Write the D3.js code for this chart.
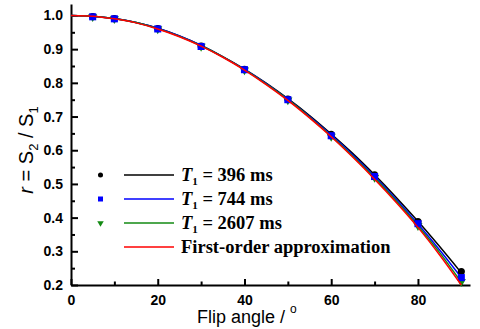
<!DOCTYPE html>
<html>
<head>
<meta charset="utf-8">
<script src="https://cdn.jsdelivr.net/npm/d3@7"></script>
<style>
  body { margin: 0; background: #fff; }
  svg { display: block; }
  .tick text { font-family: "Liberation Sans", Arial, sans-serif; font-weight: bold; font-size: 14px; fill: #000; }
  .legText { font-family: "Liberation Serif", "Times New Roman", serif; font-weight: bold; font-size: 18.5px; }
</style>
</head>
<body>
<div id="chart"></div>
<script>
// flip angles of the measured points
const angles = [5, 10, 20, 30, 40, 50, 60, 70, 80, 90];
// measured ratios
const ptsT396 = [0.997, 0.991, 0.961, 0.909, 0.840, 0.752, 0.647, 0.527, 0.388, 0.240];
const ptsT744 = [0.996, 0.990, 0.960, 0.908, 0.839, 0.750, 0.643, 0.522, 0.382, 0.222];
const ptsT2607 = [0.996, 0.990, 0.960, 0.908, 0.838, 0.749, 0.641, 0.519, 0.376, 0.210];

// curve values
const curveAngles = [0, 5, 10, 15, 20, 25, 30, 35, 40, 45, 50, 55, 60, 65, 70, 75, 80, 85, 90];
const lineT396 = [1.000, 0.998, 0.991, 0.979, 0.962, 0.939, 0.911, 0.878, 0.841, 0.799, 0.753, 0.703, 0.648, 0.590, 0.527, 0.460, 0.389, 0.314, 0.236];
const lineT744 = [1.000, 0.998, 0.991, 0.979, 0.962, 0.939, 0.911, 0.877, 0.840, 0.798, 0.751, 0.700, 0.645, 0.586, 0.522, 0.454, 0.381, 0.304, 0.222];
const lineT2607 = [1.000, 0.998, 0.991, 0.979, 0.961, 0.938, 0.910, 0.877, 0.839, 0.796, 0.750, 0.698, 0.642, 0.582, 0.518, 0.449, 0.375, 0.296, 0.208];
const lineApprox = [1.000, 0.998, 0.990, 0.978, 0.960, 0.937, 0.909, 0.876, 0.838, 0.795, 0.748, 0.696, 0.640, 0.579, 0.514, 0.445, 0.371, 0.289, 0.200];

const xTicks = [0, 20, 40, 60, 80];
const xMinor = [10, 30, 50, 70, 90];
const yTicks = [0.2, 0.3, 0.4, 0.5, 0.6, 0.7, 0.8, 0.9, 1.0];
const yMinor = [0.25, 0.35, 0.45, 0.55, 0.65, 0.75, 0.85, 0.95];

const width = 480, height = 329;

const svg = d3.select("#chart").append("svg")
    .attr("width", width)
    .attr("height", height);

const xScale = d3.scaleLinear().domain([0, 92]).range([71, 470]);
const yScale = d3.scaleLinear().domain([0.2, 1.034]).range([285, 4]);

//minor ticks
svg.append("g")
    .attr("transform", `translate(0, ${yScale(0.2)})`)
    .call(d3.axisBottom(xScale).tickValues(xMinor).tickSizeInner(-3.5).tickSizeOuter(0).tickFormat(""))
    .call(g => g.select(".domain").remove())
    .selectAll("line").attr("stroke-width", 2);

svg.append("g")
    .attr("transform", `translate(${xScale(0)}, 0)`)
    .call(d3.axisLeft(yScale).tickValues(yMinor).tickSizeInner(-4).tickSizeOuter(0).tickFormat(""))
    .call(g => g.select(".domain").remove())
    .selectAll("line").attr("stroke-width", 2);

//major axes
const xAxis = svg.append("g")
    .attr("transform", `translate(0, ${yScale(0.2)})`)
    .call(d3.axisBottom(xScale).tickValues(xTicks).tickSizeInner(-6).tickSizeOuter(0).tickPadding(10).tickFormat(d3.format("d")));
xAxis.select(".domain").attr("stroke-width", 2);
xAxis.selectAll("line").attr("stroke-width", 2);

const yAxis = svg.append("g")
    .attr("transform", `translate(${xScale(0)}, 0)`)
    .call(d3.axisLeft(yScale).tickValues(yTicks).tickSizeInner(-7).tickSizeOuter(0).tickPadding(8).tickFormat(d3.format(".1f")));
yAxis.select(".domain").attr("stroke-width", 2);
yAxis.selectAll("line").attr("stroke-width", 2);

//fitted lines
const series = [
  {line: lineT396, pts: ptsT396, color: "#000000", sym: d3.symbolCircle, size: 40, label: "396 ms"},
  {line: lineT744, pts: ptsT744, color: "#0000ff", sym: d3.symbolSquare, size: 50, label: "744 ms"},
  {line: lineT2607, pts: ptsT2607, color: "#138a13", sym: d3.symbolTriangle, size: 36, label: "2607 ms"}
];

const lineGen = d3.line()
    .x((d, i) => xScale(curveAngles[i]))
    .y(d => yScale(d))
    .curve(d3.curveMonotoneX);

series.forEach(s => {
  svg.append("path")
      .attr("d", lineGen(s.line))
      .attr("fill", "none")
      .attr("stroke", s.color)
      .attr("stroke-width", 1.5);
});

//points, drawn black, green then blue on top
[series[0], series[2], series[1]].forEach(s => {
  svg.append("g").selectAll("path")
      .data(s.pts)
      .enter()
      .append("path")
      .attr("transform", (d, i) => `translate(${xScale(angles[i])}, ${yScale(d)})` + (s.sym === d3.symbolTriangle ? " rotate(180)" : ""))
      .attr("d", d3.symbol().type(s.sym).size(s.size))
      .attr("fill", s.color);
});

svg.append("path")
    .attr("d", lineGen(lineApprox))
    .attr("fill", "none")
    .attr("stroke", "#ff0000")
    .attr("stroke-width", 1.5);

//legend
const legend = svg.append("g");
const rowsY = [175, 199, 223, 247];
series.forEach((s, i) => {
  legend.append("path")
      .attr("transform", `translate(100.5, ${rowsY[i]})` + (s.sym === d3.symbolTriangle ? " rotate(180)" : ""))
      .attr("d", d3.symbol().type(s.sym).size(s.size * 0.5))
      .attr("fill", s.color);
  legend.append("line")
      .attr("x1", 124).attr("x2", 174)
      .attr("y1", rowsY[i]).attr("y2", rowsY[i])
      .attr("stroke", s.color).attr("stroke-width", 1.5);
  let t = legend.append("text")
      .attr("class", "legText")
      .attr("x", 181)
      .attr("y", rowsY[i] + 6);
  t.append("tspan").attr("font-style", "italic").text("T");
  t.append("tspan").attr("font-size", "11px").attr("dy", 4).text("1");
  t.append("tspan").attr("dy", -4).text(" = " + s.label);
});
legend.append("line")
    .attr("x1", 124).attr("x2", 174)
    .attr("y1", rowsY[3]).attr("y2", rowsY[3])
    .attr("stroke", "#ff0000").attr("stroke-width", 1.5);
legend.append("text")
    .attr("class", "legText")
    .attr("x", 181)
    .attr("y", rowsY[3] + 6)
    .text("First-order approximation");

//axis labels
const xLab = svg.append("text")
    .attr("x", 197)
    .attr("y", 323)
    .attr("font-family", "Liberation Sans, Arial, sans-serif")
    .attr("font-size", "18px");
xLab.append("tspan").text("Flip angle / ");
xLab.append("tspan").attr("font-size", "12px").attr("dy", -10).text("o");

const yLab = svg.append("text")
    .attr("transform", "translate(33, 150) rotate(-90)")
    .attr("text-anchor", "middle")
    .attr("font-family", "Liberation Sans, Arial, sans-serif")
    .attr("font-size", "20px");
yLab.append("tspan").attr("font-style", "italic").text("r");
yLab.append("tspan").text(" = S");
yLab.append("tspan").attr("font-size", "13px").attr("dy", 5).text("2");
yLab.append("tspan").attr("dy", -5).text(" / S");
yLab.append("tspan").attr("font-size", "13px").attr("dy", 5).text("1");
</script>
</body>
</html>
